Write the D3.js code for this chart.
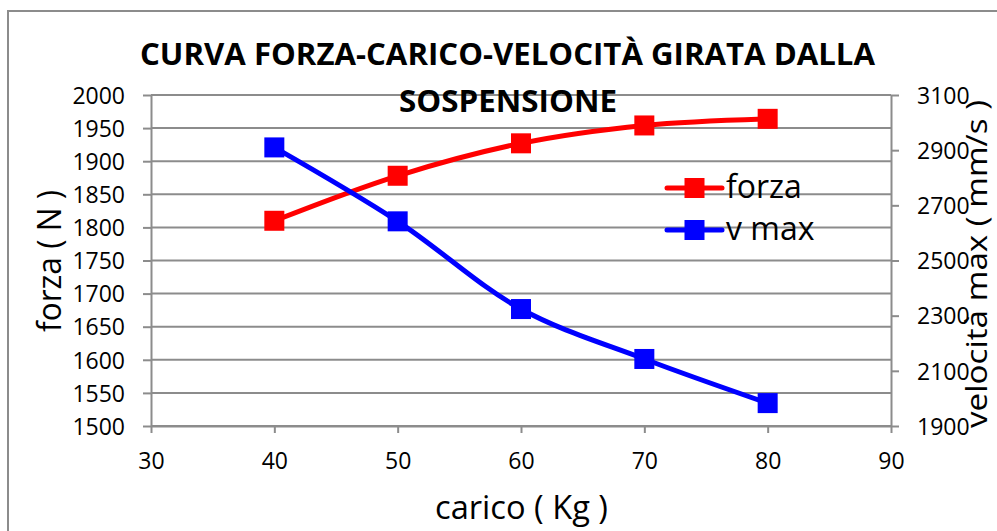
<!DOCTYPE html>
<html>
<head>
<meta charset="utf-8">
<script src="https://cdn.jsdelivr.net/npm/d3@7"></script>
<style>
  html, body { margin: 0; padding: 0; background: #ffffff; overflow: hidden; }
  svg { display: block; font-family: "Open Sans", "Noto Sans", sans-serif; }
</style>
</head>
<body>
<svg id="chart" width="997" height="531"></svg>
<script>
// Load (kg) on the x axis
const carico = [40, 50, 60, 70, 80];
// Force (N), left axis
const forza = [1810, 1878, 1927, 1954, 1964];
// Maximum speed (mm/s), right axis
const vMax = [2910, 2642, 2324, 2143, 1983];

const xTicks = [30, 40, 50, 60, 70, 80, 90];
const leftTicks = [1500, 1550, 1600, 1650, 1700, 1750, 1800, 1850, 1900, 1950, 2000];
const rightTicks = [1900, 2100, 2300, 2500, 2700, 2900, 3100];

const titleLines = ["CURVA FORZA-CARICO-VELOCITÀ GIRATA DALLA", "SOSPENSIONE"];
const xTitle = "carico ( Kg )";
const yLeftTitle = "forza ( N )";
const yRightTitle = "velocità max ( mm/s )";
const seriesNames = ["forza", "v max"];

const svg = d3.select("#chart");
const plot = { left: 151, right: 891, top: 95, bottom: 426 };
const axisColor = "#8c8c8c";
const red = "#ff0000", blue = "#0000ff";

// chart frame
svg.append("rect")
  .attr("x", 8).attr("y", 11)
  .attr("width", 1100).attr("height", 700)
  .attr("fill", "#ffffff")
  .attr("stroke", axisColor).attr("stroke-width", 2);

const x = d3.scaleLinear().domain([30, 90]).range([plot.left, plot.right]);
const yL = d3.scaleLinear().domain([1500, 2000]).range([plot.bottom, plot.top]);
const yR = d3.scaleLinear().domain([1900, 3100]).range([plot.bottom, plot.top]);

// horizontal gridlines
svg.append("g")
  .selectAll("line")
  .data(leftTicks)
  .join("line")
  .attr("x1", plot.left).attr("x2", plot.right)
  .attr("y1", d => yL(d)).attr("y2", d => yL(d))
  .attr("stroke", axisColor).attr("stroke-width", 2);

function styleAxis(g) {
  g.attr("font-family", null).attr("font-size", null);
  g.select(".domain").attr("stroke", axisColor).attr("stroke-width", 2);
  g.selectAll(".tick line").attr("stroke", axisColor).attr("stroke-width", 2);
  g.selectAll(".tick text")
    .attr("fill", "#000000")
    .style("font-family", "'Open Sans', sans-serif")
    .style("font-size", "23px");
}

// left axis
svg.append("g")
  .attr("transform", `translate(${plot.left},0)`)
  .call(d3.axisLeft(yL).tickValues(leftTicks).tickSize(8).tickSizeOuter(0).tickPadding(18)
    .tickFormat(d3.format("d")))
  .call(styleAxis)
  .call(g => g.selectAll(".tick text").attr("dy", "0.36em"));

// right axis
svg.append("g")
  .attr("transform", `translate(${plot.right},0)`)
  .call(d3.axisRight(yR).tickValues(rightTicks).tickSize(8).tickSizeOuter(0).tickPadding(18)
    .tickFormat(d3.format("d")))
  .call(styleAxis)
  .call(g => g.selectAll(".tick text").attr("dy", "0.36em"));

// bottom axis
svg.append("g")
  .attr("transform", `translate(0,${plot.bottom})`)
  .call(d3.axisBottom(x).tickValues(xTicks).tickSize(7).tickSizeOuter(0).tickPadding(20)
    .tickFormat(d3.format("d")))
  .call(styleAxis);

// series
const series = [
  { name: seriesNames[0], values: forza, y: yL, color: red },
  { name: seriesNames[1], values: vMax, y: yR, color: blue }
];

series.forEach(s => {
  const pts = carico.map((c, i) => [x(c), s.y(s.values[i])]);
  svg.append("path")
    .attr("d", d3.line().curve(d3.curveCatmullRom.alpha(0.5))(pts))
    .attr("fill", "none")
    .attr("stroke", s.color)
    .attr("stroke-width", 5)
    .attr("stroke-linejoin", "round");
  svg.append("g")
    .selectAll("rect")
    .data(pts)
    .join("rect")
    .attr("x", d => d[0] - 10).attr("y", d => d[1] - 10)
    .attr("width", 20).attr("height", 20)
    .attr("fill", s.color);
});

// legend
const legend = svg.append("g");
series.forEach((s, i) => {
  const cy = 188 + i * 42;
  legend.append("line")
    .attr("x1", 667).attr("x2", 722).attr("y1", cy).attr("y2", cy)
    .attr("stroke", s.color).attr("stroke-width", 5).attr("stroke-linecap", "round");
  legend.append("rect")
    .attr("x", 684.5).attr("y", cy - 10).attr("width", 20).attr("height", 20)
    .attr("fill", s.color);
  legend.append("text")
    .attr("x", 726).attr("y", cy + 10)
    .style("font-size", "32px")
    .attr("fill", "#000")
    .text(s.name);
});

// title
svg.append("text")
  .attr("x", 507.5).attr("y", 65)
  .attr("text-anchor", "middle")
  .style("font-size", "31px").style("font-weight", "bold")
  .attr("textLength", 735).attr("lengthAdjust", "spacingAndGlyphs")
  .text(titleLines[0]);
svg.append("text")
  .attr("x", 508).attr("y", 112)
  .attr("text-anchor", "middle")
  .style("font-size", "31px").style("font-weight", "bold")
  .attr("textLength", 218).attr("lengthAdjust", "spacingAndGlyphs")
  .text(titleLines[1]);

// axis titles
svg.append("text")
  .attr("x", 521.5).attr("y", 519)
  .attr("text-anchor", "middle")
  .style("font-size", "32px")
  .attr("textLength", 173).attr("lengthAdjust", "spacingAndGlyphs")
  .text(xTitle);

svg.append("text")
  .attr("transform", "translate(61,261) rotate(-90)")
  .attr("text-anchor", "middle")
  .style("font-size", "32px")
  .attr("textLength", 142).attr("lengthAdjust", "spacingAndGlyphs")
  .text(yLeftTitle);

svg.append("text")
  .attr("transform", "translate(987,264) rotate(-90)")
  .attr("text-anchor", "middle")
  .style("font-size", "29px")
  .attr("textLength", 328).attr("lengthAdjust", "spacingAndGlyphs")
  .text(yRightTitle);
</script>
</body>
</html>
